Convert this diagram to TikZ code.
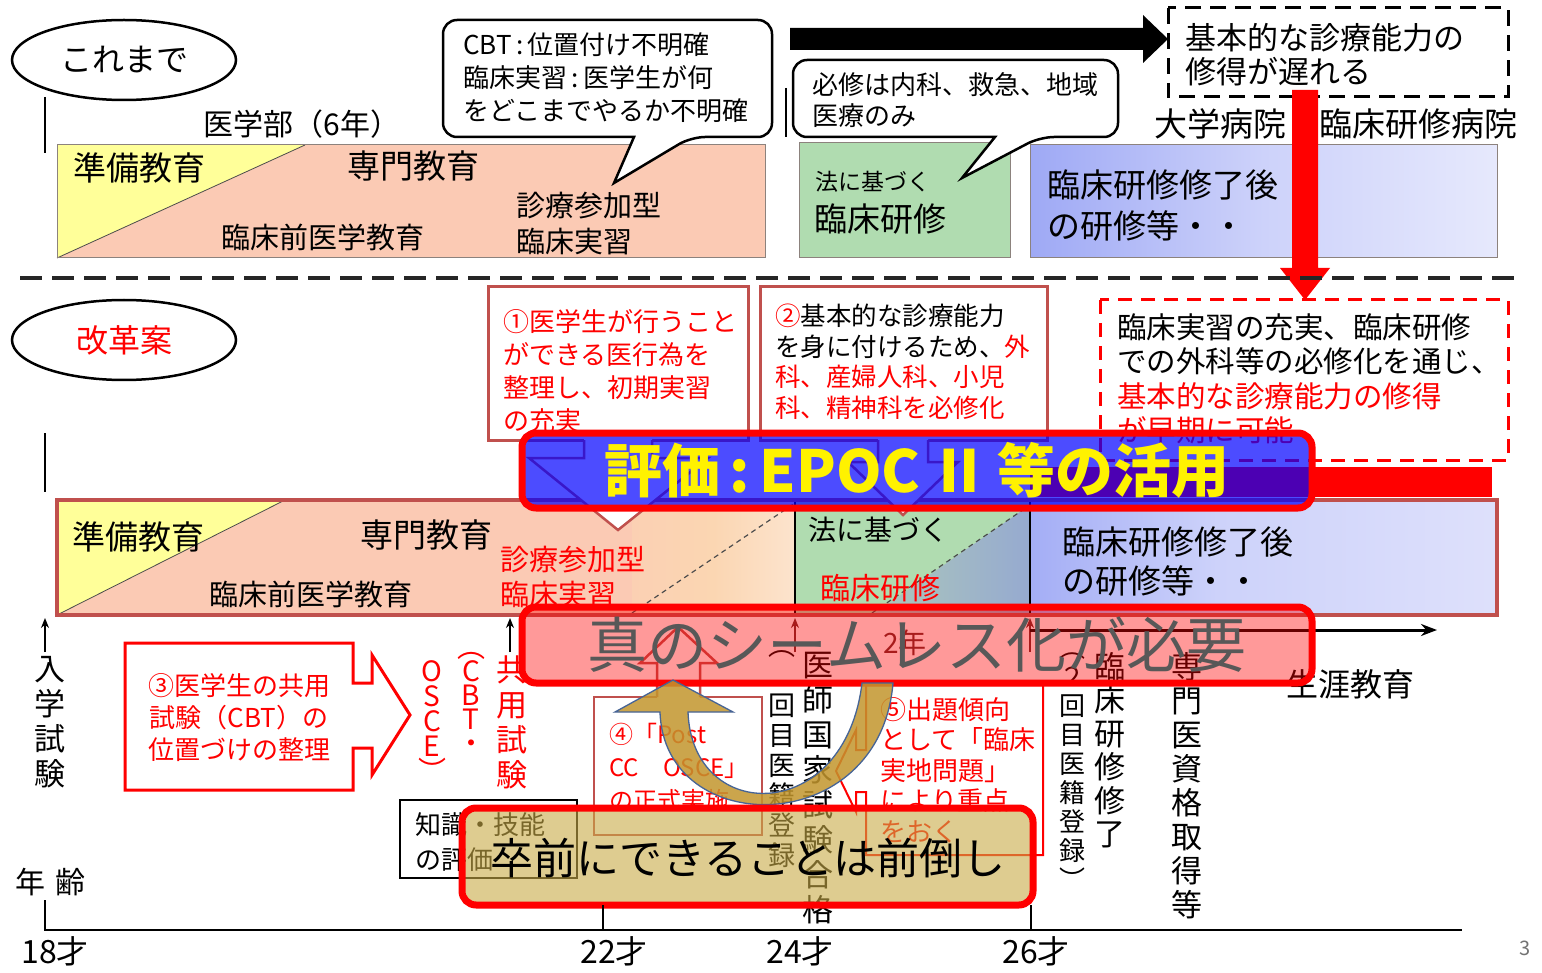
\documentclass[tikz,border=0pt]{standalone}
\usepackage{fontspec}
\setmainfont{Noto Sans CJK JP}
\usetikzlibrary{arrows.meta,shapes.geometric}
\newcommand\FS[2]{\fontsize{#1}{#2}\selectfont}
\definecolor{boxred}{RGB}{192,80,77}
\definecolor{salmonC}{RGB}{251,202,180}
\definecolor{peachC}{RGB}{251,214,178}
\definecolor{paleC}{RGB}{254,241,233}
\definecolor{yellowC}{RGB}{255,255,153}
\definecolor{greenC}{RGB}{176,220,176}
\definecolor{blueL}{RGB}{112,128,240}
\definecolor{blueM}{RGB}{205,210,250}
\definecolor{blueR}{RGB}{236,236,252}
\definecolor{grayblueA}{RGB}{172,200,186}
\definecolor{grayblueB}{RGB}{150,170,208}
\definecolor{borderG}{RGB}{140,130,125}
\definecolor{tanC}{RGB}{200,170,70}
\definecolor{goldC}{RGB}{195,150,45}
\definecolor{goldEdge}{RGB}{70,100,150}
\definecolor{txtGray}{RGB}{88,88,88}
\definecolor{darkR}{RGB}{110,45,45}
\pgfdeclarehorizontalshading{bluefadeA}{100bp}{color(0bp)=(blueL); color(50bp)=(blueM); color(100bp)=(white)}
\pgfdeclarehorizontalshading{bluefadeB}{100bp}{color(0bp)=(blueL); color(45bp)=(blueM); color(100bp)=(blueR)}
\pgfdeclarehorizontalshading{peachfade}{100bp}{color(0bp)=(salmonC); color(50bp)=(peachC); color(100bp)=(paleC)}
\tikzset{
  lbl/.style={inner sep=0pt, anchor=west},
  ctr/.style={inner sep=0pt},
  vcol/.style={inner sep=0pt, align=center, anchor=north},
  mline/.style={inner sep=0pt, align=left, anchor=north west},
  banner/.style={draw=red, line width=7pt, rounded corners=14pt},
  boxr/.style={draw=boxred, line width=3pt},
  uparr/.style={line width=1.6pt, -{Stealth[length=10pt,width=8pt]}},
}
\begin{document}
\begin{tikzpicture}[x=1pt,y=-1pt]
\useasboundingbox (0,0) rectangle (1542,973);
\fill[white] (0,0) rectangle (1542,973);

%================ TOP SECTION =================
\node[draw, ellipse, line width=2.5pt, minimum width=224pt, minimum height=80pt, inner sep=0pt, font=\FS{32}{32}] (oldlbl) at (124,60) {これまで};
\draw[line width=2.5pt] (45,97) -- (45,153);
\node[ctr, font=\FS{30}{30}] (igakubu) at (302,124) {医学部（6年）};

% top pink box
\fill[salmonC] (57,145) rectangle (765,258);
\fill[yellowC] (57,145) -- (305,145) -- (57,258) -- cycle;
\draw[line width=0.8pt, black!70] (305,145) -- (57,258);
\draw[line width=1pt, borderG] (57,145) rectangle (765,258);
\node[lbl, font=\FS{33}{33}] (t_jb1) at (73,168) {準備教育};
\node[lbl, font=\FS{33}{33}] (t_sm1) at (347,166) {専門教育};
\node[lbl, font=\FS{29}{29}] (t_rz1) at (221,237) {臨床前医学教育};
\node[mline, font=\FS{29}{36}] (t_sr1) at (516,192) {診療参加型\\臨床実習};

% CBT bubble
\draw[line width=2.5pt, fill=white] (691,137) [sharp corners] -- (614,183) -- (634,137)
   [rounded corners=14pt] -- (443,137) -- (443,20) -- (772,20) -- (772,137) -- cycle;
\node[mline, font=\FS{26}{33}] (t_cbt) at (463,32) {CBT\,:\,位置付け不明確\\臨床実習\,:\,医学生が何\\をどこまでやるか不明確};

% small vertical line
\draw[line width=2.5pt] (786,88) -- (786,137);

% green top box
\fill[greenC] (799,143) rectangle (1010,258);
\draw[line width=1pt, borderG] (799,143) rectangle (1010,258);
\node[lbl, font=\FS{23}{23}] (t_hou1) at (815,182) {法に基づく};
\node[lbl, font=\FS{33}{33}] (t_rk1) at (814,219) {臨床研修};

% bubble 2
\draw[line width=2.5pt, fill=white] (1040,137) [sharp corners] -- (962,178) -- (995,137)
   [rounded corners=14pt] -- (793,137) -- (793,60) -- (1118,60) -- (1118,137) -- cycle;
\node[mline, font=\FS{26}{31}] (t_hissyu) at (812,72) {必修は内科、救急、地域\\医療のみ};

% black arrow
\fill[black] (790,28) -- (1143,28) -- (1143,15) -- (1168,39) -- (1143,63) -- (1143,50) -- (790,50) -- cycle;

% dashed black box
\draw[line width=3pt, dash pattern=on 16pt off 9pt] (1168,8) rectangle (1508,97);
\node[mline, font=\FS{31}{34}] (t_kihon1) at (1185,23) {基本的な診療能力の\\修得が遅れる};

\node[ctr, font=\FS{33}{33}] (t_daigaku) at (1336,124) {大学病院・臨床研修病院};

% blue top box
\shade[shading=bluefadeA] (1030,145) rectangle (1497,258);
\draw[line width=1pt, borderG] (1030,145) rectangle (1497,258);
\node[lbl, font=\FS{33}{33}] (t_syuryo1) at (1047,185) {臨床研修修了後};
\node[lbl, font=\FS{33}{33}] (t_kensyu1) at (1047,226) {の研修等・・};

% red down arrow
\fill[red] (1292,90) -- (1318,90) -- (1318,268) -- (1330,268) -- (1305,300) -- (1280,268) -- (1292,268) -- cycle;

% separator
\draw[line width=4pt, black!85, dash pattern=on 22pt off 10pt] (20,278) -- (1522,278);

%================ BOTTOM SECTION =================
\node[draw, ellipse, line width=2.5pt, minimum width=224pt, minimum height=80pt, inner sep=0pt, font=\FS{32}{32}, text=red] (newlbl) at (124,340) {改革案};
\draw[line width=2.5pt] (45,433) -- (45,492);

% big bottom box
\fill[salmonC] (57,500) rectangle (633,615);
\shade[shading=peachfade] (632,500) rectangle (795,615);
\fill[yellowC] (57,500) -- (285,500) -- (57,615) -- cycle;
\draw[line width=0.8pt, black!70] (285,500) -- (57,615);
\draw[line width=1.2pt, black!70, dash pattern=on 5pt off 4pt] (632,613) -- (795,503);
\fill[greenC] (795,500) rectangle (1030,615);
\shade[left color=grayblueA, right color=grayblueB] (872,615) -- (1030,505) -- (1030,615) -- cycle;
\draw[line width=1.2pt, black!70, dash pattern=on 5pt off 4pt] (872,613) -- (1030,505);
\shade[shading=bluefadeB] (1030,500) rectangle (1497,615);
\draw[line width=1.2pt] (795,500) -- (795,615);
\draw[line width=1.2pt] (1030,500) -- (1030,615);
\draw[line width=4pt, boxred] (57,500) rectangle (1497,615);

\node[lbl, font=\FS{33}{33}] (t_jb2) at (72,537) {準備教育};
\node[lbl, font=\FS{33}{33}] (t_sm2) at (360,535) {専門教育};
\node[lbl, font=\FS{29}{29}] (t_rz2) at (209,594) {臨床前医学教育};
\node[mline, font=\FS{29}{35}, text=red] (t_sr2) at (500,546) {診療参加型\\臨床実習};
\node[lbl, font=\FS{28}{28}] (t_hou2) at (808,530) {法に基づく};
\node[lbl, font=\FS{30}{30}, text=red] (t_rk2) at (820,588) {臨床研修};
\node[lbl, font=\FS{33}{33}] (t_syuryo2) at (1062,542) {臨床研修修了後};
\node[lbl, font=\FS{33}{33}] (t_kensyu2) at (1062,581) {の研修等・・};

% box 1 with down arrow
\draw[boxr, fill=white] (488,287) rectangle (748,440);
\fill[white] (584,438) -- (584,458) -- (529,458) -- (618,530) -- (708,458) -- (652,458) -- (652,438) -- cycle;
\draw[boxred, line width=2.5pt] (584,440) -- (584,458) -- (529,458) -- (618,530) -- (708,458) -- (652,458) -- (652,440);
\node[mline, font=\FS{26}{33}, text=red] (t_b1) at (503,309) {①医学生が行うこと\\ができる医行為を\\整理し、初期実習\\の充実};

% box 2 with down arrow
\draw[boxr, fill=white] (760,287) rectangle (1047,440);
\fill[white] (878,438) -- (878,462) -- (848,462) -- (903,515) -- (958,462) -- (928,462) -- (928,438) -- cycle;
\draw[boxred, line width=2.5pt] (878,440) -- (878,462) -- (848,462) -- (903,515) -- (958,462) -- (928,462) -- (928,440);
\node[mline, font=\FS{25.5}{30.5}] (t_b2) at (775,304) {{\color{red}②}基本的な診療能力\\を身に付けるため、{\color{red}外}\\{\color{red}科、産婦人科、小児}\\{\color{red}科、精神科を必修化}};

% red dashed box
\fill[white] (1100,300) rectangle (1508,460);
\draw[red, line width=3pt, dash pattern=on 14pt off 9pt] (1100,300) rectangle (1508,460);
\node[mline, font=\FS{29.5}{34.5}] (t_rd) at (1117,313) {臨床実習の充実、臨床研修\\での外科等の必修化を通じ、\\{\color{red}基本的な診療能力の修得}\\{\color{red}が早期に可能}};

% red bar
\fill[red] (1030,467) rectangle (1492,497);

% blue banner
\draw[banner, fill=blue, fill opacity=0.7] (522,433) rectangle (1312,508);
\node[ctr, font=\FS{58}{58}\bfseries, text=yellow] (t_epoc) at (917,470) {評価\,:\,EPOC\,Ⅱ\,等の活用};

%================ TIMELINE =================
\draw[uparr] (45,652) -- (45,618);
\draw[uparr] (510,652) -- (510,618);
\draw[uparr, darkR] (795,652) -- (795,618);
\draw[uparr, darkR] (1030,652) -- (1030,618);
\draw[line width=3pt, -{Stealth[length=16pt,width=12pt]}] (1030,630) -- (1437,630);
\node[ctr, font=\FS{28}{28}, text=darkR] (t_2nen) at (905,643) {2年};

\node[vcol, font=\FS{31}{35}] (v_nyugaku) at (50,656) {入\\学\\試\\験};
\node[vcol, font=\FS{31}{35}, text=red] (v_kyoyo) at (512,656) {共\\用\\試\\験};
\node[vcol, font=\FS{28}{24}, text=red] (v_cbt) at (471,652) {︵\\C\\B\\T\\・};
\node[vcol, font=\FS{28}{25}, text=red] (v_osce) at (432,660) {O\\S\\C\\E\\︶};
\node[vcol, font=\FS{31}{35}] (v_kokushi) at (818,652) {医\\師\\国\\家\\試\\験\\合\\格};
\node[vcol, font=\FS{27}{30}] (v_iseki1) at (782,650) {︵\\\\回\\目\\医\\籍\\登\\録};
\node[vcol, font=\FS{26}{29}] (v_iseki2) at (1072,652) {︵\\２\\回\\目\\医\\籍\\登\\録\\︶};
\node[vcol, font=\FS{31}{33.5}] (v_rinsyo) at (1110,652) {臨\\床\\研\\修\\修\\了};
\node[vcol, font=\FS{31}{34}] (v_senmon) at (1187,652) {専\\門\\医\\資\\格\\取\\得\\等};
\node[ctr, font=\FS{32}{32}] (t_syogai) at (1350,684) {生涯教育};

% box 3 (right arrow callout)
\draw[red, line width=3pt] (125,643) -- (353,643) -- (353,683) -- (372,683) -- (372,655) -- (410,715) -- (372,775) -- (372,748) -- (353,748) -- (353,790) -- (125,790) -- cycle;
\node[ctr, align=center, font=\FS{26}{32}, text=red] (t_b3) at (239,718) {③医学生の共用\\試験（CBT）の\\位置づけの整理};

% knowledge box
\draw[line width=1.3pt, fill=white] (400,800) rectangle (577,878);
\node[mline, font=\FS{26}{35}] (t_chishiki) at (415,812) {知識・技能\\の評価};

% box 4 (up arrow callout)
\fill[white] (594,697) rectangle (762,835);
\draw[boxred, line width=2.5pt] (657,697) -- (594,697) -- (594,835) -- (762,835) -- (762,697) -- (700,697);
\draw[boxred, line width=2.5pt] (657,697) -- (657,663) -- (640,663) -- (678,627) -- (717,663) -- (700,663) -- (700,697);
\node[mline, font=\FS{24}{33}, text=red] (t_b4) at (609,723) {④「Post\\CC　OSCE」\\の正式実施};

% box 5 (left arrow callout)
\fill[white] (866,685) rectangle (1043,855);
\draw[red, line width=2pt] (866,750) -- (866,685) -- (1043,685) -- (1043,855) -- (866,855) -- (866,792) -- (856,792) -- (856,812) -- (836,771) -- (856,730) -- (856,750) -- cycle;
\node[mline, font=\FS{26}{30.5}, text=red] (t_b5) at (880,697) {⑤出題傾向\\として「臨床\\実地問題」\\により重点\\をおく};

% seamless banner
\draw[banner, fill=red, fill opacity=0.4] (522,607) rectangle (1312,683);
\node[ctr, font=\FS{60}{60}, text=txtGray] (t_seamless) at (917,645) {真のシームレス化が必要};

% gold curved arrow
\draw[fill=goldC, fill opacity=0.85, draw=goldEdge, line width=1.3pt]
  (893,683) .. controls (880,840) and (664,840) .. (660,712) -- (615,712) -- (673,680) -- (733,712) -- (688,712)
  .. controls (692,825) and (845,825) .. (862,683) -- cycle;

% sotsuzen banner
\draw[banner, fill=tanC, fill opacity=0.6] (462,808) rectangle (1033,905);
\node[ctr, font=\FS{43}{43}] (t_sotsuzen) at (748,858) {卒前にできることは前倒し};

% axis
\node[lbl, font=\FS{30}{30}] (t_nenrei) at (15,882) {年\hspace{0.35em}齢};
\draw[line width=2.5pt] (45,900) -- (45,930) -- (1462,930);
\draw[line width=2.5pt] (603,905) -- (603,930);
\draw[line width=2.5pt] (1031,905) -- (1031,930);
\node[ctr, font=\FS{32}{32}] (a18) at (55,951) {18才};
\node[ctr, font=\FS{32}{32}] (a22) at (614,951) {22才};
\node[ctr, font=\FS{32}{32}] (a24) at (800,951) {24才};
\node[ctr, font=\FS{32}{32}] (a26) at (1036,951) {26才};
\node[ctr, font=\FS{20}{20}, text=black!55] (pg) at (1525,948) {3};
\end{tikzpicture}
\end{document}
